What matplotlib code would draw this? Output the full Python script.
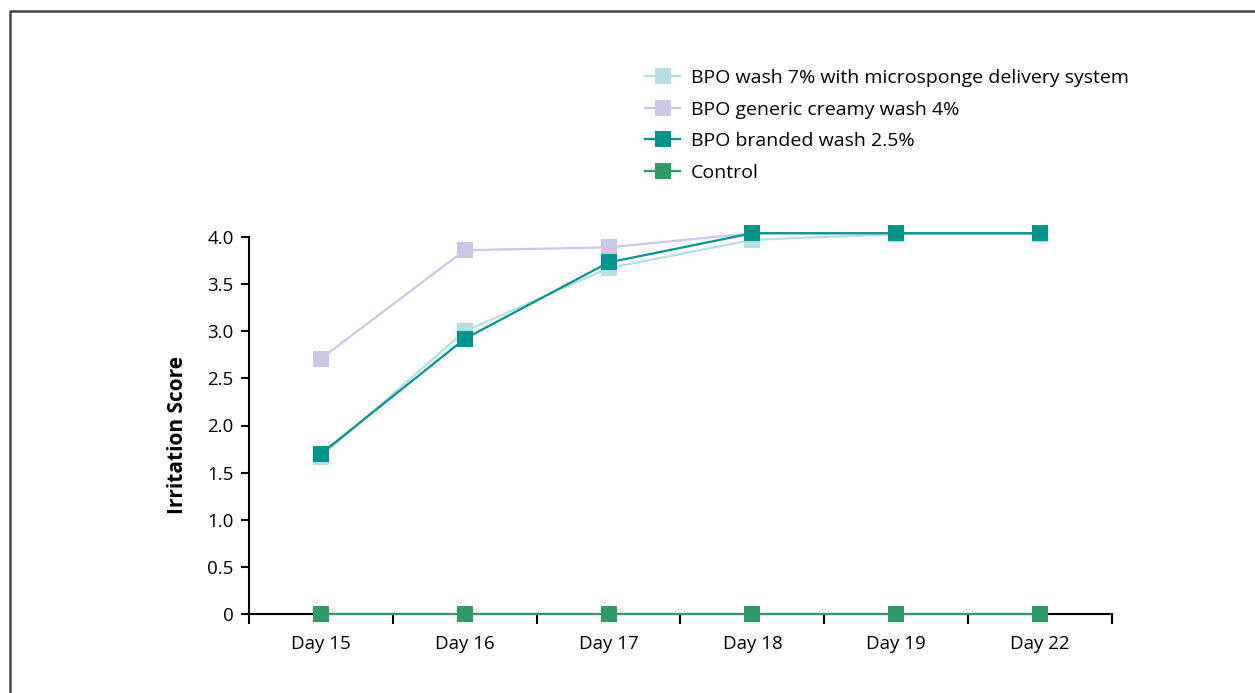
import numpy as np
import matplotlib.pyplot as plt
from matplotlib.lines import Line2D

days = ['Day 15', 'Day 16', 'Day 17', 'Day 18', 'Day 19', 'Day 22']
wash_7 = [1.67, 3.0, 3.67, 3.97, 4.03, 4.03]
generic_4 = [2.71, 3.86, 3.89, 4.04, 4.04, 4.04]
branded_25 = [1.7, 2.92, 3.73, 4.04, 4.04, 4.04]
control = [0, 0, 0, 0, 0, 0]

series = [
    ('BPO wash 7% with microsponge delivery system', wash_7, '#b5dfe0'),
    ('BPO generic creamy wash 4%', generic_4, '#cac7e6'),
    ('BPO branded wash 2.5%', branded_25, '#00968f'),
    ('Control', control, '#2f9a68'),
]

plt.rcParams['font.family'] = ['Open Sans', 'DejaVu Sans']

W, H = 1255, 693
fig = plt.figure(figsize=(W / 100, H / 100), dpi=100)
ax = fig.add_axes([249 / W, 1 - 614 / H, (1112 - 249) / W, (614 - 237) / H])

x = np.arange(len(days))
for label, vals, col in series:
    ax.plot(x, vals, color=col, lw=1.6, marker='s', markersize=12,
            markeredgewidth=0, label=label, clip_on=False, zorder=3)

ax.set_xlim(-0.5, len(days) - 0.5)
ax.set_ylim(0, 4.0)
ax.set_yticks(np.arange(0, 4.01, 0.5))
ax.set_yticklabels(['0'] + ['%.1f' % v for v in np.arange(0.5, 4.01, 0.5)])
ax.set_xticks(np.arange(-0.5, len(days)), minor=False)
ax.set_xticklabels([])
ax.set_xticks(x, minor=True)
ax.set_xticklabels(days, minor=True)
ax.tick_params(axis='x', which='major', length=7, width=1.5, direction='out')
ax.tick_params(axis='x', which='minor', length=0, pad=15, labelsize=13.5)
ax.tick_params(axis='y', length=6, width=1.5, labelsize=13.5, pad=5)

for s in ['top', 'right']:
    ax.spines[s].set_visible(False)
for s in ['left', 'bottom']:
    ax.spines[s].set_linewidth(1.5)

ax.set_ylabel('Irritation Score', fontsize=15, fontweight='bold')
ax.yaxis.set_label_coords(-0.071, 0.475)

fig.legend(loc='upper left', bbox_to_anchor=(645 / W, 1 - 69 / H), frameon=False,
           fontsize=14, handlelength=1.8, handletextpad=0.57, labelspacing=0.7,
           borderaxespad=0, borderpad=0)

# open frame around the figure
fig.add_artist(Line2D([9.5 / W, 9.5 / W, 1], [0, 1 - 10.5 / H, 1 - 10.5 / H],
                      transform=fig.transFigure, color='#444444', lw=1.8))

fig.savefig('out.png', dpi=100)
